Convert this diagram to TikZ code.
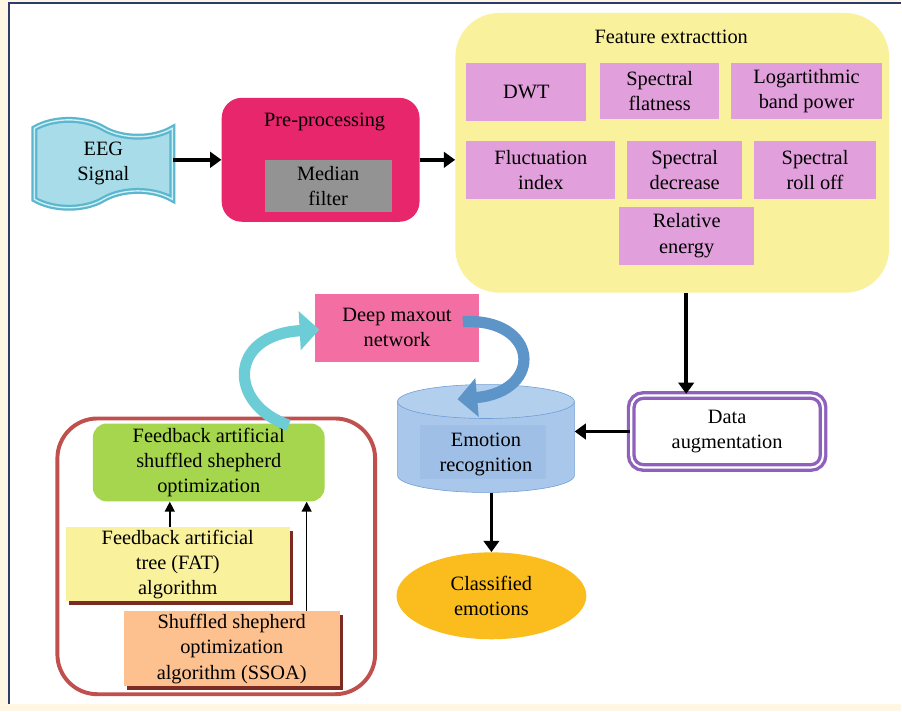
\documentclass[tikz,border=0pt]{standalone}
\usepackage{fontspec}
\setmainfont{Liberation Serif}
\usetikzlibrary{arrows.meta,calc,shapes.geometric,shapes.symbols,shadows}

\definecolor{pagecream}{HTML}{FFF7E3}
\definecolor{framenavy}{HTML}{2E3B6B}
\definecolor{eegfill}{HTML}{A7DCE8}
\definecolor{eeglight}{HTML}{CDEFF5}
\definecolor{eegline}{HTML}{5CB6CD}
\definecolor{prered}{HTML}{E8266C}
\definecolor{filtergrey}{HTML}{939393}
\definecolor{featyellow}{HTML}{FAF19C}
\definecolor{featpink}{HTML}{E19FDB}
\definecolor{dmnpink}{HTML}{F36FA3}
\definecolor{cylblue}{HTML}{A9C7EA}
\definecolor{cyltop}{HTML}{B3CFEE}
\definecolor{cylinner}{HTML}{9FBFE6}
\definecolor{cyledge}{HTML}{6E9CD3}
\definecolor{augpurple}{HTML}{8E62BC}
\definecolor{clsorange}{HTML}{FBBD1E}
\definecolor{optred}{HTML}{C0504D}
\definecolor{optgreen}{HTML}{A6D64E}
\definecolor{ssoaorange}{HTML}{FDC08F}
\definecolor{shadowred}{HTML}{7B2B22}
\definecolor{bendblue}{HTML}{5E95C9}
\definecolor{bendcyan}{HTML}{6DCDD7}

\tikzset{
  lbl/.style={font=\fontsize{14.5}{18}\selectfont, align=center, inner sep=0pt},
  featbox/.style={lbl, fill=featpink, minimum height=1.45cm},
  arr/.style={line width=2.6pt, -{Triangle[width=11pt,length=8pt]}},
  thinarr/.style={line width=1pt, -{Triangle[width=7pt,length=7pt]}},
  fatbend/.style={line width=8pt, -{Triangle[width=27pt,length=14pt]}},
  shadowbox/.style={lbl, drop shadow={shadow xshift=2.5pt, shadow yshift=-2.5pt, fill=shadowred, opacity=1}},
}

\begin{document}
\begin{tikzpicture}[x=0.025cm, y=-0.025cm]
  \fill[pagecream] (0,0) rectangle (902,712);
  \fill[white] (9,3) rectangle (902,705);
  \draw[framenavy, line width=1.5pt] (9,705) -- (9,3) -- (902,3);

  \node[lbl, tape, tape bend top=out and in, tape bend bottom=in and out, tape bend height=12pt,
        fill=eegfill, draw=eegline, line width=1.6pt, double=eeglight, double distance=1pt,
        minimum width=3.45cm, minimum height=2.2cm] (eeg) at (103.5,164) {EEG\\Signal};

  \node[lbl, fill=prered, rounded corners=0.5cm, minimum width=4.95cm, minimum height=3.1cm] (pre) at (321,160) {};
  \node[lbl] (pretitle) at (325,122) {Pre-processing};
  \node[lbl, fill=filtergrey, minimum width=3.175cm, minimum height=1.3cm] (med) at (328.5,186) {Median\\filter};

  \node[lbl, fill=featyellow, rounded corners=1.1cm, minimum width=10.85cm, minimum height=7cm] (feat) at (673,153) {};
  \node[lbl] (feattitle) at (672,37) {Feature extracttion};
  \node[featbox, minimum width=3cm] (dwt) at (527,92) {DWT};
  \node[featbox, minimum width=2.975cm, minimum height=1.4cm] (flat) at (660.5,91) {Spectral\\flatness};
  \node[featbox, minimum width=3.775cm, minimum height=1.4cm] (logp) at (807.5,91) {Logartithmic\\band power};
  \node[featbox, minimum width=3.725cm] (fluc) at (541.5,170) {Fluctuation\\index};
  \node[featbox, minimum width=2.875cm] (decr) at (685.5,170) {Spectral\\decrease};
  \node[featbox, minimum width=3.05cm] (roll) at (816,170) {Spectral\\roll off};
  \node[featbox, minimum width=3.375cm] (rele) at (687.5,236) {Relative\\energy};

  \node[lbl, draw=augpurple, double=white, line width=2.4pt, double distance=1.5pt, rounded corners=0.3cm,
        minimum width=4.8cm, minimum height=1.8cm] (dau) at (728,432) {Data\\augmentation};

  \node[lbl, fill=dmnpink, minimum width=4.125cm, minimum height=1.7cm] (dmn) at (397.5,328) {Deep maxout\\network};

  \fill[cylblue, draw=cyledge] (398,402) -- (398,476) arc[start angle=180, end angle=360, x radius=2.2125cm, y radius=0.425cm] -- (575,402) -- cycle;
  \fill[cylinner] (420,425) rectangle (547,480);
  \draw[fill=cyltop, draw=cyledge] (486.5,402) ellipse [x radius=2.2125cm, y radius=0.425cm];
  \node[lbl, minimum width=4.425cm, minimum height=1.9cm] (emo) at (486.5,455) {Emotion\\recognition};

  \node[lbl, ellipse, fill=clsorange, minimum width=4.75cm, minimum height=2.175cm] (cls) at (492,596.5) {Classified\\emotions};

  \node[draw=optred, line width=2.8pt, rounded corners=1cm, minimum width=7.95cm, minimum height=6.9cm] (optframe) at (216.5,557) {};
  \node[lbl, fill=optgreen, rounded corners=0.35cm, minimum width=5.8cm, minimum height=1.95cm] (grn) at (209,463) {Feedback artificial\\shuffled shepherd\\optimization};
  \node[shadowbox, fill=featyellow, minimum width=5.6cm, minimum height=1.85cm] (fat) at (178,565) {Feedback artificial\\tree (FAT)\\algorithm};
  \node[shadowbox, fill=ssoaorange, minimum width=5.4cm, minimum height=1.875cm] (ssoa) at (232,649.5) {Shuffled shepherd\\optimization\\algorithm (SSOA)};

  \draw[arr] (eeg.east |- pre.west) -- (pre.west);
  \draw[arr] (pre.east) -- (pre.east -| feat.west);
  \draw[arr] ([xshift=-1.025cm]dau.north |- feat.south) -- ([xshift=-1.025cm]dau.north);
  \draw[arr] (dau.west) -- (dau.west -| emo.east);
  \draw[arr] (cls.north |- emo.south) -- (cls.north);
  \draw[thinarr] ([xshift=-0.2cm]fat.north) -- ([xshift=-0.2cm]fat.north |- grn.south);
  \draw[thinarr] ([xshift=1.875cm]ssoa.north) -- ([xshift=1.875cm]ssoa.north |- grn.south);

  \draw[fatbend, bendblue] ($(dmn.east)+(-17,-6)$) .. controls (540,318) and (545,392) .. ($(emo.north)+(-28.5,-17)$);
  \draw[fatbend, bendcyan] ($(grn.north)+(80,2)$) .. controls (228,405) and (228,335) .. ($(dmn.west)+(5,2)$);
\end{tikzpicture}
\end{document}
